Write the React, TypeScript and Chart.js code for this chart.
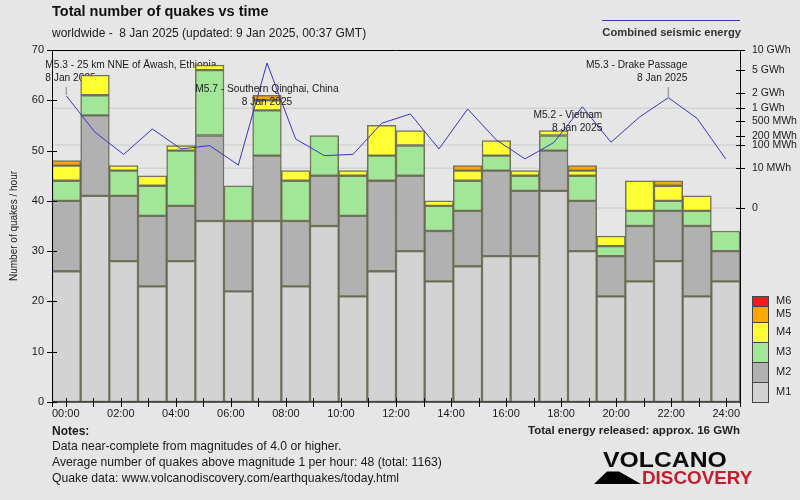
import React, { useEffect, useRef } from 'react';
import { Chart, registerables } from 'chart.js';

Chart.register(...registerables);

// ---------- data ----------
const hours = [
  '00:00', '01:00', '02:00', '03:00', '04:00', '05:00', '06:00', '07:00',
  '08:00', '09:00', '10:00', '11:00', '12:00', '13:00', '14:00', '15:00',
  '16:00', '17:00', '18:00', '19:00', '20:00', '21:00', '22:00', '23:00',
];
const m1 = [26, 41, 28, 23, 28, 36, 22, 36, 23, 35, 21, 26, 30, 24, 27, 29, 29, 42, 30, 21, 24, 28, 21, 24];
const m2 = [14, 16, 13, 14, 11, 17, 14, 13, 13, 10, 16, 18, 15, 10, 11, 17, 13, 8, 10, 8, 11, 10, 14, 6];
const m3 = [4, 4, 5, 6, 11, 13, 7, 9, 8, 8, 8, 5, 6, 5, 6, 3, 3, 3, 5, 2, 3, 2, 3, 4];
const m4 = [3, 4, 1, 2, 1, 1, 0, 2, 2, 0, 1, 6, 3, 1, 2, 3, 1, 1, 1, 2, 6, 3, 3, 0];
const m5 = [1, 0, 0, 0, 0, 0, 0, 1, 0, 0, 0, 0, 0, 0, 1, 0, 0, 0, 1, 0, 0, 1, 0, 0];
const m6 = [0, 0, 0, 0, 0, 0, 0, 0, 0, 0, 0, 0, 0, 0, 0, 0, 0, 0, 0, 0, 0, 0, 0, 0];
// combined seismic energy per hour, MWh
const energyMWh = [1800, 253, 45, 312, 73, 96, 15, 6500, 159, 40, 45, 443, 746, 73, 967, 148, 29, 121, 1080, 125, 636, 1660, 590, 29];

const energyTickValues = [0, 10, 100, 200, 500, 1000, 2000, 5000, 10000];
const energyTickLabels = ['0', '10 MWh', '100 MWh', '200 MWh', '500 MWh', '1 GWh', '2 GWh', '5 GWh', '10 GWh'];
const energyGridValues = [0, 10, 100, 1000];
const countTicks = [0, 10, 20, 30, 40, 50, 60, 70];

const magLabels = ['M1', 'M2', 'M3', 'M4', 'M5', 'M6'];
const magColors = ['#d3d3d3', '#b1b1b1', '#a2e698', '#ffff33', '#ffa500', '#ee1c1c'];

const quakeHours = [0, 7, 18, 21];
const quakeNames = [
  'M5.3 - 25 km NNE of Āwash, Ethiopia',
  'M5.7 - Southern Qinghai, China',
  'M5.2 - Vietnam',
  'M5.3 - Drake Passage',
];
const quakeDates = ['8 Jan 2025', '8 Jan 2025', '8 Jan 2025', '8 Jan 2025'];

const titleText = 'Total number of quakes vs time';
const subtitleText = 'worldwide -  8 Jan 2025 (updated: 9 Jan 2025, 00:37 GMT)';
const energyLegendText = 'Combined seismic energy';
const yTitleText = 'Number of quakes / hour';
const notesTitle = 'Notes:';
const notesLines = [
  'Data near-complete from magnitudes of 4.0 or higher.',
  'Average number of quakes above magnitude 1 per hour: 48 (total: 1163)',
  'Quake data: www.volcanodiscovery.com/earthquakes/today.html',
];
const totalEnergyText = 'Total energy released: approx. 16 GWh';

// ---------- helpers ----------
const FONT = '"Liberation Sans", Arial, sans-serif';
const ePow = (v: number) => Math.pow(v, 0.2);
const E_MAX = ePow(10000);
const E_MIN = -E_MAX * (194 / 158);

// annotation styling (layout only)
const annoLayout = [
  { align: 'left', dx: -21, y1: 15, under: true, tick: [37, 45] },
  { align: 'center', dx: 0, y1: 39, under: false, tick: null },
  { align: 'right', dx: 20, y1: 65, under: false, tick: null },
  { align: 'right', dx: 19, y1: 15, under: false, tick: [37, 47] },
];

function drawAnno(chart: any, idx: number) {
  const ctx = chart.ctx;
  const { top } = chart.chartArea;
  const xs = chart.scales.x;
  const L = annoLayout[idx];
  const px = xs.getPixelForValue(quakeHours[idx]);
  ctx.save();
  ctx.font = `10.2px ${FONT}`;
  ctx.fillStyle = '#1a1a1a';
  ctx.textBaseline = 'middle';
  ctx.textAlign = L.align;
  ctx.fillText(quakeNames[idx], px + L.dx, top + L.y1);
  ctx.fillText(quakeDates[idx], px + L.dx, top + L.y1 + 13);
  if (L.tick) {
    ctx.strokeStyle = '#a0a0a0';
    ctx.lineWidth = 1.5;
    ctx.beginPath();
    ctx.moveTo(px, top + L.tick[0]);
    ctx.lineTo(px, top + L.tick[1]);
    ctx.stroke();
  }
  ctx.restore();
}

const deco = {
  id: 'deco',
  beforeDraw(chart: any) {
    const ctx = chart.ctx;
    ctx.save();
    ctx.fillStyle = '#e6e6e6';
    ctx.fillRect(0, 0, chart.width, chart.height);
    ctx.restore();
  },
  beforeDatasetsDraw(chart: any) {
    const ctx = chart.ctx;
    const { left, right } = chart.chartArea;
    const ye = chart.scales.yE;
    ctx.save();
    ctx.strokeStyle = '#d3d3d3';
    ctx.lineWidth = 1.5;
    energyGridValues.forEach((v) => {
      const y = ye.getPixelForValue(ePow(v));
      ctx.beginPath();
      ctx.moveTo(left, y);
      ctx.lineTo(right, y);
      ctx.stroke();
    });
    ctx.restore();
    annoLayout.forEach((L, i) => { if (L.under) drawAnno(chart, i); });
  },
  afterDatasetsDraw(chart: any) {
    const ctx = chart.ctx;
    const { left, right, top, bottom } = chart.chartArea;
    const y = chart.scales.y;
    const ye = chart.scales.yE;
    const xt = chart.scales.xt;
    ctx.save();
    ctx.strokeStyle = '#000';
    ctx.lineWidth = 1;
    ctx.beginPath();
    ctx.moveTo(left + 0.5, top);
    ctx.lineTo(left + 0.5, bottom + 5);
    ctx.moveTo(right + 0.5, top);
    ctx.lineTo(right + 0.5, bottom + 5);
    ctx.moveTo(left, top + 0.5);
    ctx.lineTo(right + 1, top + 0.5);
    ctx.stroke();
    ctx.strokeStyle = '#333';
    ctx.lineWidth = 1.5;
    ctx.beginPath();
    ctx.moveTo(left, bottom);
    ctx.lineTo(right, bottom);
    ctx.stroke();
    ctx.strokeStyle = '#000';
    ctx.lineWidth = 1;
    ctx.beginPath();
    countTicks.forEach((v) => {
      const py = Math.round(y.getPixelForValue(v)) + 0.5;
      ctx.moveTo(left - 5, py);
      ctx.lineTo(left + 5, py);
    });
    energyTickValues.forEach((v) => {
      const py = Math.round(ye.getPixelForValue(ePow(v))) + 0.5;
      ctx.moveTo(right - 4, py);
      ctx.lineTo(right + 5, py);
    });
    for (let h = 0; h <= 24; h++) {
      const px = Math.round(xt.getPixelForValue(h)) + 0.5;
      ctx.moveTo(px, bottom - 4);
      ctx.lineTo(px, bottom + 5);
    }
    ctx.stroke();
    ctx.restore();
    annoLayout.forEach((L, i) => { if (!L.under) drawAnno(chart, i); });
  },
  afterDraw(chart: any) {
    const ctx = chart.ctx;
    const { left, right, top, bottom } = chart.chartArea;
    ctx.save();
    ctx.textBaseline = 'middle';
    // titles
    ctx.fillStyle = '#111';
    ctx.textAlign = 'left';
    ctx.font = `bold 14.5px ${FONT}`;
    ctx.fillText(titleText, left, 12);
    ctx.font = `12px ${FONT}`;
    ctx.fillStyle = '#1a1a1a';
    ctx.fillText(subtitleText, left, 34);
    // energy legend
    ctx.strokeStyle = '#3535cc';
    ctx.lineWidth = 1;
    ctx.beginPath();
    ctx.moveTo(602, 20.5);
    ctx.lineTo(right, 20.5);
    ctx.stroke();
    ctx.textAlign = 'right';
    ctx.font = `bold 11.2px ${FONT}`;
    ctx.fillStyle = '#333';
    ctx.fillText(energyLegendText, right + 1, 33);
    // y title
    ctx.save();
    ctx.translate(14, (top + bottom) / 2);
    ctx.rotate(-Math.PI / 2);
    ctx.textAlign = 'center';
    ctx.font = `10px ${FONT}`;
    ctx.fillStyle = '#1a1a1a';
    ctx.fillText(yTitleText, 0, 0);
    ctx.restore();
    // magnitude legend
    const boxH = [20, 20, 20, 20, 16, 10];
    let yb = bottom;
    ctx.font = `11px ${FONT}`;
    ctx.textAlign = 'left';
    for (let i = 0; i < magLabels.length; i++) {
      const h = boxH[i];
      ctx.fillStyle = magColors[i];
      ctx.fillRect(752.5, yb - h, 16, h);
      ctx.strokeStyle = '#444';
      ctx.lineWidth = 1;
      ctx.strokeRect(752.5, yb - h + 0.5, 16, h);
      ctx.fillStyle = '#222';
      ctx.fillText(magLabels[i], 776, yb - h / 2);
      yb -= h;
    }
    // notes
    ctx.fillStyle = '#1a1a1a';
    ctx.font = `bold 12px ${FONT}`;
    ctx.fillText(notesTitle, left, 432);
    ctx.font = `12.2px ${FONT}`;
    notesLines.forEach((t, i) => ctx.fillText(t, left, 447 + i * 16));
    ctx.textAlign = 'right';
    ctx.font = `bold 11.5px ${FONT}`;
    ctx.fillStyle = '#222';
    ctx.fillText(totalEnergyText, right, 431);
    // logo
    ctx.fillStyle = '#000';
    ctx.beginPath();
    ctx.moveTo(594, 484);
    ctx.lineTo(607, 471.5);
    ctx.lineTo(619, 471.5);
    ctx.lineTo(641, 484);
    ctx.closePath();
    ctx.fill();
    ctx.textAlign = 'left';
    ctx.textBaseline = 'alphabetic';
    ctx.save();
    ctx.translate(603, 467);
    ctx.scale(1.1, 1);
    ctx.font = `bold 22.5px ${FONT}`;
    ctx.fillStyle = '#0a0a0a';
    ctx.fillText('VOLCANO', 0, 0);
    ctx.restore();
    ctx.save();
    ctx.translate(642, 483.5);
    ctx.scale(1.03, 1);
    ctx.font = `bold 18.3px ${FONT}`;
    ctx.fillStyle = '#c41e2e';
    ctx.fillText('DISCOVERY', 0, 0);
    ctx.restore();
    ctx.restore();
  },
};

export default function App() {
  const ref = useRef<HTMLCanvasElement | null>(null);
  useEffect(() => {
    document.body.style.margin = '0';
    const canvas = ref.current;
    if (!canvas) return;
    const series = [m1, m2, m3, m4, m5, m6];
    const barSets = series.map((arr, i) => ({
      type: 'bar' as const,
      label: magLabels[i],
      data: arr.map((v) => (v === 0 ? null : v)),
      backgroundColor: magColors[i],
      borderColor: 'rgba(95,95,70,0.85)',
      borderWidth: 1.5,
      borderSkipped: false,
      categoryPercentage: 1,
      barPercentage: 1,
      xAxisID: 'x',
      yAxisID: 'y',
      stack: 'q',
      order: 1,
    }));
    const chart = new Chart(canvas, {
      type: 'bar',
      data: {
        labels: hours,
        datasets: [
          ...barSets,
          {
            type: 'line' as const,
            label: energyLegendText,
            data: energyMWh.map(ePow),
            borderColor: '#3535cc',
            borderWidth: 1,
            pointRadius: 0,
            tension: 0,
            xAxisID: 'x',
            yAxisID: 'yE',
            order: 0,
          },
        ] as any,
      },
      options: {
        responsive: false,
        animation: false,
        devicePixelRatio: 1,
        layout: { padding: { top: 50, left: 0, right: 0, bottom: 0 } },
        plugins: { legend: { display: false }, tooltip: { enabled: false }, title: { display: false } },
        font: { family: FONT },
        scales: {
          x: { type: 'category', display: false, stacked: true, offset: true },
          xt: {
            type: 'linear',
            position: 'bottom',
            min: 0,
            max: 24,
            afterBuildTicks: (axis: any) => {
              axis.ticks = hours.concat(['24:00']).map((_, i) => ({ value: i }));
            },
            afterFit: (s: any) => { s.height = 98; },
            grid: { display: false, drawTicks: false },
            border: { display: false },
            ticks: {
              autoSkip: false,
              maxRotation: 0,
              padding: 5,
              color: '#1a1a1a',
              font: { family: FONT, size: 11 },
              callback: (v: any) => {
                const n = Number(v);
                if (n % 2 !== 0) return '';
                return n === 24 ? '24:00' : hours[n];
              },
            },
          },
          y: {
            type: 'linear',
            position: 'left',
            stacked: true,
            min: 0,
            max: 70,
            afterBuildTicks: (axis: any) => {
              axis.ticks = countTicks.map((v) => ({ value: v }));
            },
            afterFit: (s: any) => { s.width = 52; },
            grid: { display: false, drawTicks: false },
            border: { display: false },
            ticks: { padding: 8, color: '#1a1a1a', font: { family: FONT, size: 11 } },
          },
          yE: {
            type: 'linear',
            position: 'right',
            min: E_MIN,
            max: E_MAX,
            afterBuildTicks: (axis: any) => {
              axis.ticks = energyTickValues.map((v) => ({ value: ePow(v) }));
            },
            afterFit: (s: any) => { s.width = 60; },
            grid: { display: false, drawTicks: false },
            border: { display: false },
            ticks: {
              autoSkip: false,
              padding: 12,
              color: '#1a1a1a',
              font: { family: FONT, size: 10.5 },
              callback: (_v: any, i: number) => energyTickLabels[i],
            },
          },
        },
      } as any,
      plugins: [deco],
    });
    return () => chart.destroy();
  }, []);
  return (
    <div style={{ width: 800, height: 500 }}>
      <canvas ref={ref} width={800} height={500} style={{ display: 'block' }} />
    </div>
  );
}
